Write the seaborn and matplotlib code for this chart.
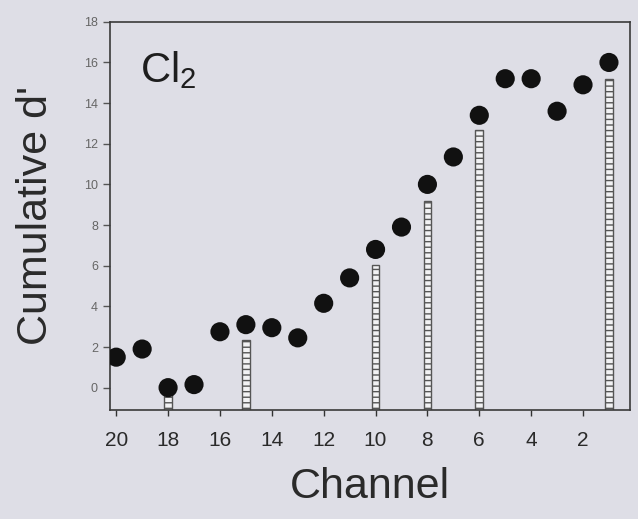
import numpy as np
import pandas as pd
import matplotlib
matplotlib.use("Agg")
import matplotlib.pyplot as plt
import seaborn as sns

# channel numbers and cumulative d' values (dots)
channels = [20, 19, 18, 17, 16, 15, 14, 13, 12, 11, 10, 9, 8, 7, 6, 5, 4, 3, 2, 1]
cum_d = [1.5, 1.9, 0.0, 0.15, 2.75, 3.1, 2.95, 2.45, 4.15, 5.4,
         6.8, 7.9, 10.0, 11.35, 13.4, 15.2, 15.2, 13.6, 14.9, 16.0]

# hatched bars at selected channels
bar_channels = [18, 15, 10, 8, 6, 1]
bar_values = [0.0, 2.35, 6.05, 9.2, 12.7, 15.2]

y_ticks = [0, 2, 4, 6, 8, 10, 12, 14, 16, 18]
x_ticks = [20, 18, 16, 14, 12, 10, 8, 6, 4, 2]

bg = "#dedee6"
sns.set_style("ticks")
plt.rcParams["font.family"] = ["Liberation Sans", "DejaVu Sans"]
plt.rcParams["mathtext.default"] = "regular"

fig = plt.figure(figsize=(6.38, 5.19), dpi=100, facecolor=bg)
ax = fig.add_axes([0.172, 0.21, 0.815, 0.748])
ax.set_facecolor(bg)

ymin = -1.1
df = pd.DataFrame({"Channel": channels, "d": cum_d})
bars = pd.DataFrame({"Channel": bar_channels, "v": bar_values})

# bars drawn from the bottom of the axis up to their value
ax.bar(bars["Channel"], bars["v"] - ymin, bottom=ymin, width=0.3,
       color="#f2f2f4", edgecolor="#555555", linewidth=1.0, hatch="---",
       zorder=2)

sns.scatterplot(data=df, x="Channel", y="d", ax=ax, s=190, color="#111111",
                edgecolor="none", zorder=3, legend=False)

ax.set_xlim(20.25, 0.2)
ax.set_ylim(ymin, 18)
ax.set_xticks(x_ticks)
ax.set_yticks(y_ticks)
ax.tick_params(axis="y", labelsize=9, colors="#555555", direction="out",
               length=5, width=1)
ax.tick_params(axis="x", labelsize=15, colors="#333333", direction="out",
               length=4, width=1, pad=11)
for lab in ax.get_yticklabels():
    lab.set_color("#666666")
for lab in ax.get_xticklabels():
    lab.set_color("#2a2a2a")

for side in ["left", "right", "top", "bottom"]:
    ax.spines[side].set_visible(True)
    ax.spines[side].set_color("#3a3a3a")
    ax.spines[side].set_linewidth(1.2)

ax.set_xlabel("Channel", fontsize=31, color="#2a2a2a", labelpad=12)
ax.set_ylabel("Cumulative d'", fontsize=31, color="#2a2a2a", labelpad=20)

ax.text(0.058, 0.93, "Cl$_2$", transform=ax.transAxes, fontsize=30,
        color="#1e1e1e", va="top", ha="left")

fig.savefig("out.png", dpi=100, facecolor=bg)
